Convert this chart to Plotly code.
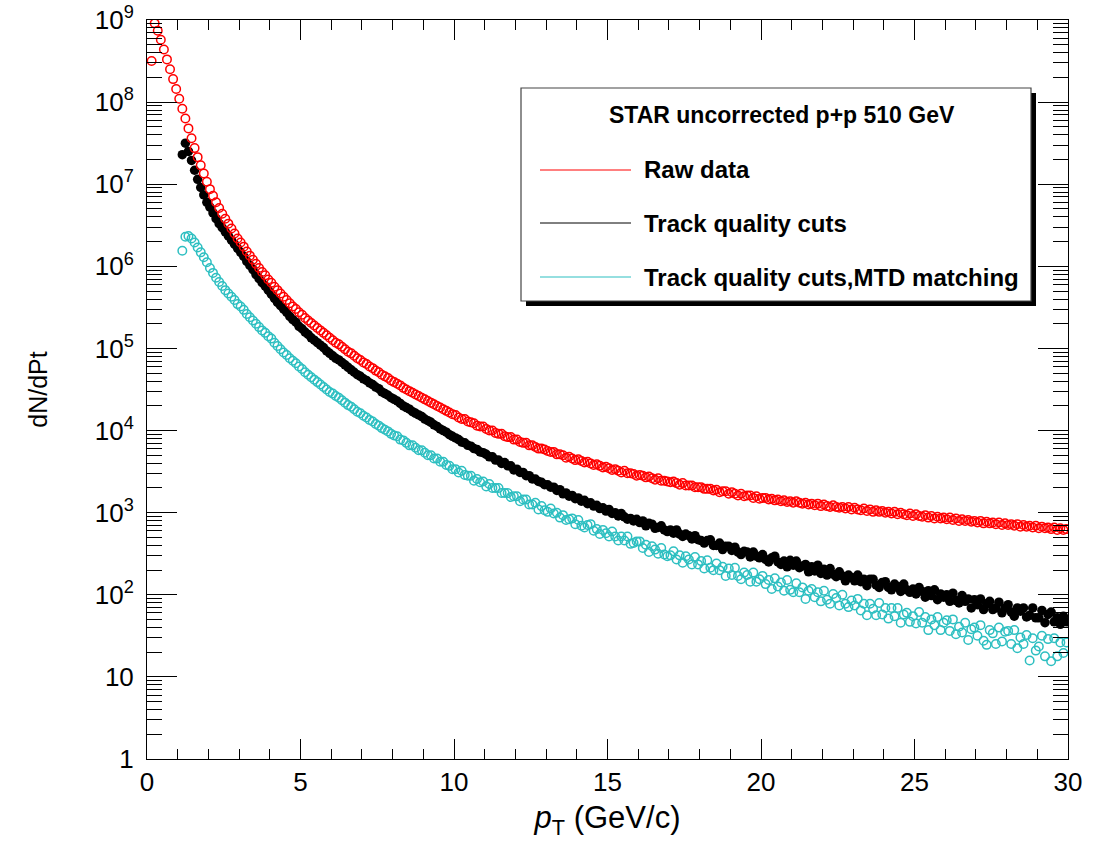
import numpy as np
import plotly.graph_objects as go

# pT bin width of the histograms (GeV/c)
BIN_WIDTH = 0.1

# bin centres: raw data starts at 0.15, the cut samples at 1.15 GeV/c
PT_RAW = np.round(np.arange(0.15, 30.0, BIN_WIDTH), 2)
PT_CUT = np.round(np.arange(1.15, 30.0, BIN_WIDTH), 2)

# log10(dN/dPt), one row per GeV
RAW_LOG10 = [
    8.50, 8.96, 8.87, 8.76, 8.64, 8.52, 8.40, 8.28, 8.16,
    8.04, 7.92, 7.80, 7.68, 7.56, 7.44, 7.33, 7.23, 7.13, 7.03,
    6.94, 6.86, 6.78, 6.71, 6.64, 6.58, 6.52, 6.46, 6.40, 6.34,
    6.29, 6.24, 6.18, 6.13, 6.08, 6.03, 5.98, 5.93, 5.89, 5.84,
    5.80, 5.75, 5.71, 5.67, 5.63, 5.59, 5.55, 5.51, 5.48, 5.44,
    5.41, 5.37, 5.34, 5.31, 5.28, 5.25, 5.22, 5.19, 5.16, 5.13,
    5.10, 5.07, 5.05, 5.02, 4.99, 4.96, 4.94, 4.91, 4.88, 4.86,
    4.83, 4.81, 4.78, 4.76, 4.73, 4.71, 4.68, 4.66, 4.64, 4.61,
    4.59, 4.57, 4.55, 4.52, 4.50, 4.48, 4.46, 4.44, 4.42, 4.40,
    4.38, 4.36, 4.34, 4.32, 4.30, 4.28, 4.26, 4.24, 4.22, 4.20,
    4.19, 4.16, 4.14, 4.14, 4.11, 4.10, 4.09, 4.06, 4.05, 4.05,
    4.02, 4.00, 4.00, 3.97, 3.96, 3.96, 3.93, 3.92, 3.92, 3.89,
    3.89, 3.86, 3.85, 3.85, 3.82, 3.82, 3.80, 3.78, 3.78, 3.77,
    3.75, 3.74, 3.74, 3.71, 3.71, 3.70, 3.67, 3.68, 3.66, 3.64,
    3.65, 3.63, 3.61, 3.62, 3.60, 3.58, 3.59, 3.57, 3.55, 3.56,
    3.54, 3.52, 3.53, 3.51, 3.49, 3.51, 3.48, 3.48, 3.47, 3.45,
    3.46, 3.45, 3.43, 3.44, 3.42, 3.40, 3.42, 3.39, 3.39, 3.38,
    3.37, 3.38, 3.36, 3.34, 3.36, 3.33, 3.33, 3.33, 3.31, 3.31,
    3.31, 3.29, 3.29, 3.29, 3.27, 3.28, 3.25, 3.26, 3.26, 3.23,
    3.25, 3.23, 3.21, 3.23, 3.20, 3.21, 3.21, 3.18, 3.20, 3.17,
    3.18, 3.18, 3.16, 3.17, 3.15, 3.16, 3.14, 3.15, 3.13, 3.14,
    3.12, 3.14, 3.12, 3.11, 3.12, 3.10, 3.11, 3.09, 3.11, 3.08,
    3.10, 3.08, 3.07, 3.09, 3.07, 3.06, 3.07, 3.05, 3.07, 3.04,
    3.06, 3.04, 3.03, 3.05, 3.02, 3.04, 3.01, 3.03, 3.01, 3.02,
    3.00, 3.01, 2.99, 3.01, 2.98, 3.00, 2.98, 2.97, 2.99, 2.96,
    2.98, 2.96, 2.95, 2.97, 2.94, 2.96, 2.93, 2.95, 2.93, 2.94,
    2.92, 2.94, 2.91, 2.93, 2.90, 2.92, 2.90, 2.91, 2.89, 2.90,
    2.88, 2.90, 2.87, 2.89, 2.87, 2.88, 2.86, 2.88, 2.85, 2.87,
    2.85, 2.86, 2.84, 2.86, 2.83, 2.85, 2.83, 2.84, 2.82, 2.84,
    2.81, 2.83, 2.81, 2.82, 2.80, 2.82, 2.79, 2.81, 2.79, 2.80,
]

QUALITY_LOG10 = [
    7.36, 7.50, 7.40, 7.29, 7.17, 7.06, 6.96, 6.87, 6.78,
    6.72, 6.65, 6.58, 6.52, 6.47, 6.42, 6.37, 6.32, 6.27, 6.22,
    6.17, 6.12, 6.06, 6.01, 5.96, 5.90, 5.85, 5.80, 5.76, 5.71,
    5.66, 5.61, 5.56, 5.52, 5.48, 5.44, 5.39, 5.35, 5.32, 5.27,
    5.24, 5.20, 5.17, 5.13, 5.10, 5.07, 5.04, 5.01, 4.97, 4.94,
    4.91, 4.88, 4.86, 4.83, 4.80, 4.77, 4.74, 4.71, 4.68, 4.66,
    4.63, 4.61, 4.58, 4.56, 4.53, 4.51, 4.47, 4.45, 4.43, 4.40,
    4.38, 4.36, 4.33, 4.30, 4.28, 4.26, 4.23, 4.21, 4.19, 4.17,
    4.14, 4.12, 4.10, 4.07, 4.05, 4.02, 4.00, 3.98, 3.95, 3.93,
    3.91, 3.89, 3.86, 3.85, 3.82, 3.81, 3.78, 3.77, 3.74, 3.73,
    3.71, 3.68, 3.68, 3.64, 3.64, 3.60, 3.61, 3.57, 3.57, 3.52,
    3.53, 3.49, 3.49, 3.45, 3.45, 3.41, 3.41, 3.38, 3.37, 3.34,
    3.34, 3.31, 3.31, 3.27, 3.28, 3.23, 3.24, 3.20, 3.21, 3.17,
    3.18, 3.14, 3.15, 3.11, 3.12, 3.08, 3.09, 3.05, 3.06, 3.02,
    3.04, 2.99, 3.00, 2.96, 2.99, 2.95, 2.92, 2.93, 2.90, 2.92,
    2.88, 2.90, 2.84, 2.87, 2.86, 2.81, 2.82, 2.84, 2.79, 2.77,
    2.79, 2.75, 2.79, 2.74, 2.71, 2.74, 2.72, 2.68, 2.72, 2.67,
    2.66, 2.63, 2.66, 2.67, 2.60, 2.60, 2.63, 2.55, 2.59, 2.59,
    2.54, 2.58, 2.52, 2.49, 2.53, 2.52, 2.46, 2.52, 2.47, 2.45,
    2.49, 2.43, 2.40, 2.45, 2.47, 2.40, 2.37, 2.41, 2.34, 2.42,
    2.36, 2.41, 2.33, 2.35, 2.37, 2.28, 2.34, 2.29, 2.36, 2.26,
    2.31, 2.24, 2.32, 2.25, 2.22, 2.28, 2.23, 2.17, 2.24, 2.21,
    2.17, 2.24, 2.16, 2.19, 2.11, 2.19, 2.19, 2.12, 2.09, 2.15,
    2.16, 2.09, 2.06, 2.13, 2.10, 2.04, 2.13, 2.06, 2.03, 2.07,
    2.01, 2.09, 2.04, 1.97, 2.05, 1.99, 2.06, 1.94, 2.01, 1.97,
    2.00, 1.92, 2.02, 1.93, 1.90, 1.99, 1.92, 1.95, 1.84, 1.94,
    1.88, 1.95, 1.82, 1.89, 1.92, 1.82, 1.84, 1.91, 1.78, 1.84,
    1.88, 1.79, 1.74, 1.84, 1.80, 1.84, 1.73, 1.75, 1.84, 1.72,
    1.72, 1.81, 1.66, 1.76, 1.79, 1.67, 1.72, 1.64, 1.74, 1.67,
]

MTD_LOG10 = [
    6.19, 6.36, 6.37, 6.34, 6.29, 6.23, 6.17, 6.11, 6.05,
    5.98, 5.92, 5.86, 5.81, 5.76, 5.71, 5.67, 5.63, 5.59, 5.54,
    5.51, 5.47, 5.42, 5.38, 5.34, 5.30, 5.26, 5.22, 5.19, 5.15,
    5.12, 5.07, 5.03, 4.99, 4.95, 4.92, 4.88, 4.85, 4.82, 4.78,
    4.75, 4.71, 4.68, 4.65, 4.62, 4.59, 4.56, 4.53, 4.50, 4.47,
    4.45, 4.42, 4.40, 4.37, 4.34, 4.31, 4.29, 4.26, 4.23, 4.21,
    4.18, 4.16, 4.13, 4.11, 4.08, 4.06, 4.03, 4.01, 3.99, 3.96,
    3.94, 3.93, 3.89, 3.88, 3.85, 3.82, 3.82, 3.79, 3.76, 3.76,
    3.73, 3.70, 3.70, 3.66, 3.66, 3.62, 3.62, 3.58, 3.57, 3.53,
    3.53, 3.49, 3.51, 3.46, 3.45, 3.45, 3.39, 3.41, 3.37, 3.38,
    3.32, 3.35, 3.30, 3.30, 3.30, 3.24, 3.24, 3.24, 3.19, 3.20,
    3.20, 3.14, 3.16, 3.16, 3.10, 3.10, 3.12, 3.04, 3.08, 3.03,
    3.01, 3.05, 2.99, 3.00, 2.94, 2.97, 2.91, 2.92, 2.93, 2.86,
    2.91, 2.84, 2.82, 2.85, 2.86, 2.78, 2.80, 2.74, 2.79, 2.75,
    2.71, 2.77, 2.71, 2.66, 2.71, 2.66, 2.71, 2.62, 2.63, 2.65,
    2.65, 2.57, 2.61, 2.52, 2.59, 2.55, 2.50, 2.57, 2.49, 2.47,
    2.48, 2.53, 2.43, 2.48, 2.39, 2.47, 2.43, 2.37, 2.46, 2.37,
    2.41, 2.32, 2.42, 2.33, 2.30, 2.38, 2.30, 2.34, 2.23, 2.32,
    2.24, 2.33, 2.23, 2.19, 2.27, 2.24, 2.16, 2.27, 2.16, 2.19,
    2.23, 2.13, 2.18, 2.07, 2.20, 2.10, 2.15, 2.05, 2.18, 2.06,
    2.03, 2.14, 2.03, 2.09, 1.95, 2.05, 2.07, 1.97, 2.03, 1.92,
    2.05, 1.94, 1.89, 2.01, 1.96, 1.87, 2.00, 1.89, 1.85, 1.93,
    1.87, 1.95, 1.81, 1.89, 1.75, 1.89, 1.83, 1.75, 1.90, 1.76,
    1.84, 1.71, 1.84, 1.74, 1.84, 1.66, 1.76, 1.78, 1.67, 1.74,
    1.65, 1.79, 1.66, 1.73, 1.57, 1.70, 1.63, 1.73, 1.57, 1.66,
    1.69, 1.56, 1.70, 1.52, 1.61, 1.54, 1.66, 1.45, 1.58, 1.60,
    1.50, 1.63, 1.44, 1.39, 1.57, 1.53, 1.40, 1.60, 1.43, 1.55,
    1.56, 1.40, 1.57, 1.35, 1.48, 1.40, 1.51, 1.20, 1.47, 1.32,
    1.37, 1.50, 1.25, 1.46, 1.19, 1.47, 1.25, 1.42, 1.29, 1.42,
]

SERIES = ["Raw data", "Track quality cuts", "Track quality cuts,MTD matching"]
HEADER = "STAR uncorrected p+p 510 GeV"
Y_TICKS = [10 ** k for k in range(10)]
Y_TICK_TEXT = ["1", "10"] + [f"10<sup>{k}</sup>" for k in range(2, 10)]

RED = "#ff0000"
CYAN = "#2dbfc1"
FONT = "Liberation Sans, Arial, Helvetica, sans-serif"

W, H = 1101, 844
M = dict(l=147, r=33, t=20, b=85)


def px_x(x):
    # window pixel -> paper coordinate
    return (x - M["l"]) / (W - M["l"] - M["r"])


def px_y(y):
    return (H - M["b"] - y) / (H - M["t"] - M["b"])


fig = go.Figure()
fig.add_trace(go.Scatter(
    x=PT_CUT, y=10 ** np.array(QUALITY_LOG10), mode="markers", name=SERIES[1],
    marker=dict(symbol="circle", size=9.5, color="black", line=dict(width=0)),
))
fig.add_trace(go.Scatter(
    x=PT_RAW, y=10 ** np.array(RAW_LOG10), mode="markers", name=SERIES[0],
    marker=dict(symbol="circle-open", size=8.5, color=RED, line=dict(width=1.5, color=RED)),
))
fig.add_trace(go.Scatter(
    x=PT_CUT, y=10 ** np.array(MTD_LOG10), mode="markers", name=SERIES[2],
    marker=dict(symbol="circle-open", size=8.5, color=CYAN, line=dict(width=1.5, color=CYAN)),
))

# legend box drawn by hand, ROOT style with a drop shadow
bx0, bx1, by0, by1 = 521, 1031, 88, 301
shapes = [
    dict(type="rect", xref="paper", yref="paper",
         x0=px_x(bx0 + 5), x1=px_x(bx1 + 5), y0=px_y(by1 + 5), y1=px_y(by0 + 5),
         fillcolor="black", line=dict(width=0)),
    dict(type="rect", xref="paper", yref="paper",
         x0=px_x(bx0), x1=px_x(bx1), y0=px_y(by1), y1=px_y(by0),
         fillcolor="white", line=dict(color="#444444", width=1.2)),
]
annotations = [
    dict(text=f"<b>{HEADER}</b>", xref="paper", yref="paper",
         x=px_x(782), y=px_y(115), showarrow=False,
         xanchor="center", yanchor="middle", font=dict(size=23, color="black", family=FONT)),
]
for label, col, ypix in zip(SERIES, [RED, "black", CYAN], [170, 223, 277]):
    shapes.append(dict(type="line", xref="paper", yref="paper",
                       x0=px_x(540), x1=px_x(631), y0=px_y(ypix), y1=px_y(ypix),
                       line=dict(color=col, width=1)))
    annotations.append(dict(text=f"<b>{label}</b>", xref="paper", yref="paper",
                            x=px_x(642), y=px_y(ypix), showarrow=False,
                            xanchor="left", yanchor="middle",
                            font=dict(size=24, color="black", family=FONT)))

fig.update_layout(
    width=W, height=H, margin=M,
    paper_bgcolor="white", plot_bgcolor="white",
    showlegend=False,
    font=dict(family=FONT, color="black", size=26),
    shapes=shapes, annotations=annotations,
)
fig.update_xaxes(
    range=[0, 30], dtick=5, tick0=0, automargin=False,
    ticks="inside", ticklen=20, tickwidth=1, tickcolor="black",
    minor=dict(ticks="inside", ticklen=10, dtick=1, tickcolor="black", tickwidth=1),
    showline=True, linecolor="black", linewidth=1, mirror="ticks",
    showgrid=False, zeroline=False,
    tickfont=dict(size=26),
    title=dict(text="<i>p</i><sub>T</sub> (GeV/c)", font=dict(size=31), standoff=10),
)
fig.update_yaxes(
    type="log", range=[0, 9], automargin=False,
    tickvals=Y_TICKS, ticktext=Y_TICK_TEXT, ticklabeloverflow="allow",
    ticks="inside", ticklen=30, tickwidth=1, tickcolor="black",
    minor=dict(ticks="inside", ticklen=15, dtick="D1", tickcolor="black", tickwidth=1),
    showline=True, linecolor="black", linewidth=1, mirror="ticks",
    showgrid=False, zeroline=False,
    ticklabelstandoff=7,
    tickfont=dict(size=26),
    title=dict(text="dN/dPt", font=dict(size=25), standoff=40),
)

# drop the default 8 px body margin so the figure fills the window exactly
fig.write_html(
    "out.html",
    config={"displayModeBar": False},
    post_script="document.body.style.margin='0px';",
)
